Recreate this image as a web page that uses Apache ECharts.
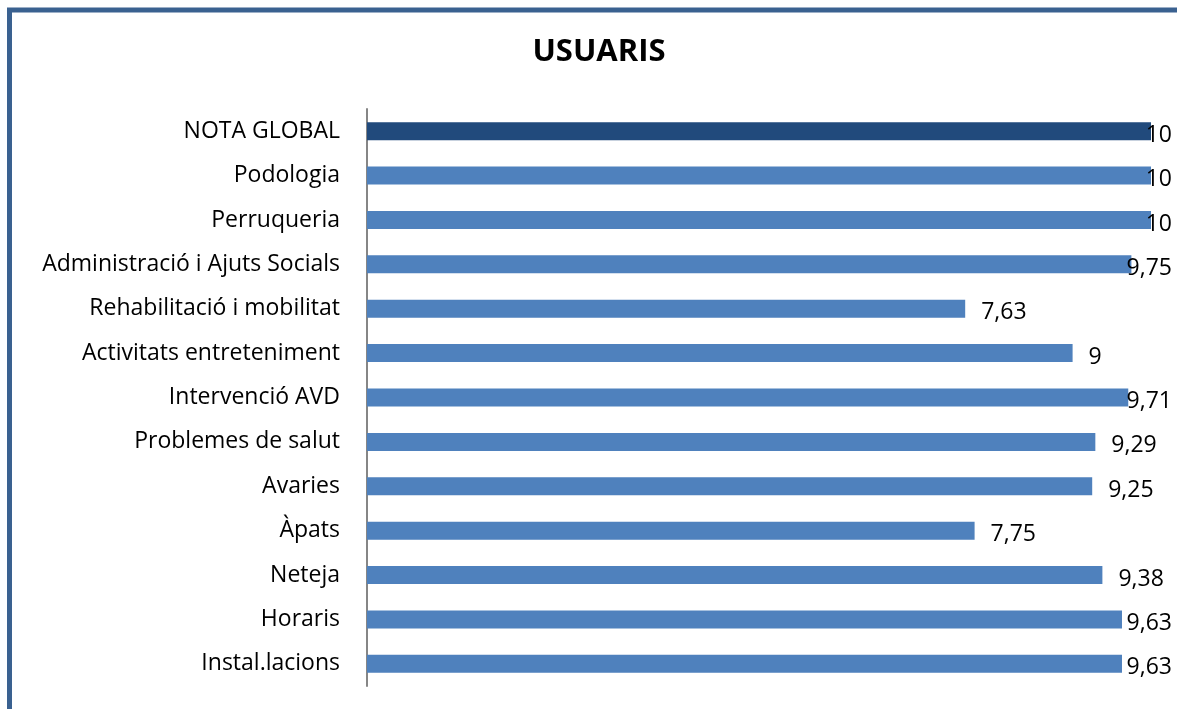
<!DOCTYPE html>
<html style="height: 100%">
<head>
    <meta charset="utf-8">
</head>
<body style="height: 100%; margin: 0; background: #fff">
    <div id="container" style="width: 1177px; height: 709px"></div>
    <script type="text/javascript" src="https://cdn.jsdelivr.net/npm/echarts@6/dist/echarts.min.js"></script>
    <script type="text/javascript">
        // dades (de dalt a baix, tal com surten al gràfic)
        var categories = ['NOTA GLOBAL', 'Podologia', 'Perruqueria', 'Administració i Ajuts Socials',
            'Rehabilitació i mobilitat', 'Activitats entreteniment', 'Intervenció AVD',
            'Problemes de salut', 'Avaries', 'Àpats', 'Neteja', 'Horaris', 'Instal.lacions'];
        var values = [10, 10, 10, 9.75, 7.63, 9, 9.71, 9.29, 9.25, 7.75, 9.38, 9.63, 9.63];
        var highlight = 'NOTA GLOBAL';

        var dom = document.getElementById("container");
        var myChart = echarts.init(dom);
        var font = '"Open Sans", sans-serif';

        var option = {
            animation: false,
            title: {
                text: 'USUARIS',
                left: 594,
                top: 32,
                textAlign: 'center',
                textStyle: {
                    fontFamily: font,
                    fontWeight: 'bold',
                    fontSize: 31,
                    color: '#000'
                }
            },
            graphic: [{
                type: 'rect',
                shape: { x: 9.5, y: 10, width: 1300, height: 900 },
                style: { fill: 'none', stroke: '#3a6190', lineWidth: 5 },
                z: 100
            }],
            grid: {
                left: 367,
                right: 26,
                top: 109,
                bottom: 23
            },
            xAxis: {
                type: 'value',
                min: 0,
                max: 10,
                show: false
            },
            yAxis: {
                type: 'category',
                inverse: true,
                data: categories,
                axisLine: { lineStyle: { color: '#868686', width: 2 } },
                axisTick: { show: false },
                axisLabel: {
                    margin: 27,
                    color: '#000',
                    fontFamily: font,
                    fontSize: 23
                }
            },
            series: [{
                type: 'bar',
                barWidth: 18,
                data: values.map(function (v, i) {
                    return {
                        value: v,
                        itemStyle: { color: categories[i] === highlight ? '#214a7c' : '#4f81bd' }
                    };
                }),
                label: {
                    show: true,
                    position: 'right',
                    distance: 16,
                    color: '#000',
                    fontFamily: font,
                    fontSize: 23,
                    formatter: function (p) {
                        return String(p.value).replace('.', ',');
                    }
                },
                labelLayout: function (p) {
                    // l'etiqueta no pot sortir de l'àrea del gràfic
                    var maxX = 1172 - p.labelRect.width;
                    var dx = p.labelRect.x > maxX ? maxX - p.labelRect.x : 0;
                    return { dx: dx, dy: 4 };
                }
            }]
        };
        myChart.setOption(option);
    </script>
</body>
</html>
